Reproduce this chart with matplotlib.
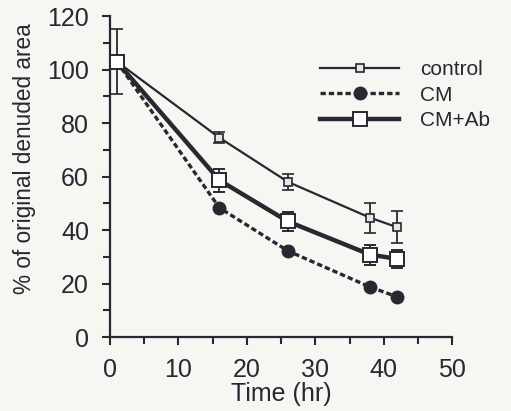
import matplotlib

matplotlib.use("Agg")
import matplotlib.pyplot as plt
from matplotlib.lines import Line2D
from matplotlib.ticker import MultipleLocator

# Data
time_hr = [1, 16, 26, 38, 42]

control = [103, 74.5, 58, 44.6, 41]
control_err = [12, 2, 3, 5.6, 6]

cm = [103, 48.3, 32.2, 18.7, 15]

cm_ab = [103, 58.6, 43.2, 30.8, 29.2]
cm_ab_err = [0, 4.3, 3.4, 3.7, 3.5]

series_labels = ["control", "CM", "CM+Ab"]

ink = "#2b2630"
bg = "#f6f6f3"

plt.rcParams["font.family"] = ["Liberation Sans", "DejaVu Sans"]

fig = plt.figure(figsize=(5.11, 4.11), dpi=100, facecolor=bg)
ax = fig.add_axes([0.215, 0.18, 0.67, 0.781])
ax.set_facecolor(bg)

# styles shared between the plotted series and the legend proxies
st_control = dict(color=ink, lw=1.6, marker="s", ms=6, mfc="#e8e6e6", mec=ink, mew=1.2)
st_cm = dict(color=ink, lw=2.4, ls=(0, (1.6, 0.9)), marker="o", ms=9, mfc=ink, mec=ink)
st_cm_ab = dict(color=ink, lw=3.2, marker="s", ms=10.5, mfc="white", mec=ink, mew=1.4)

ax.errorbar(time_hr, control, yerr=control_err, ecolor=ink, elinewidth=1.3,
            capsize=4, capthick=1.3, zorder=3, **st_control)
ax.plot(time_hr, cm, zorder=2, **st_cm)
ax.errorbar(time_hr, cm_ab, yerr=cm_ab_err, ecolor=ink, elinewidth=1.3,
            capsize=4, capthick=1.3, zorder=4, **st_cm_ab)

ax.set_xlim(0, 50)
ax.set_ylim(0, 120)
ax.xaxis.set_major_locator(MultipleLocator(10))
ax.xaxis.set_minor_locator(MultipleLocator(5))
ax.yaxis.set_major_locator(MultipleLocator(20))
ax.yaxis.set_minor_locator(MultipleLocator(10))

for side in ("top", "right"):
    ax.spines[side].set_visible(False)
for side in ("left", "bottom"):
    ax.spines[side].set_color(ink)
    ax.spines[side].set_linewidth(1.6)

ax.tick_params(which="both", direction="out", color=ink, width=1.5,
               labelsize=18, labelcolor=ink)
ax.tick_params(axis="y", pad=9)
ax.tick_params(axis="x", pad=9)
ax.tick_params(which="major", length=6)
ax.tick_params(which="minor", length=5)

ax.set_xlabel("Time (hr)", fontsize=18, color=ink, labelpad=0)
ax.set_ylabel("% of original denuded area", fontsize=16.3, color=ink)
ax.yaxis.set_label_coords(-0.217, 0.557)

# legend proxies (no error bars in the key)
handles = [Line2D([], [], **st_control),
           Line2D([], [], **st_cm),
           Line2D([], [], **st_cm_ab)]
ax.legend(handles, series_labels, loc="upper right", bbox_to_anchor=(1.165, 0.92),
          frameon=False, fontsize=15, handlelength=3.8,
          labelspacing=0.3, handletextpad=1.0, labelcolor=ink)

fig.savefig("out.png", dpi=100, facecolor=bg)
